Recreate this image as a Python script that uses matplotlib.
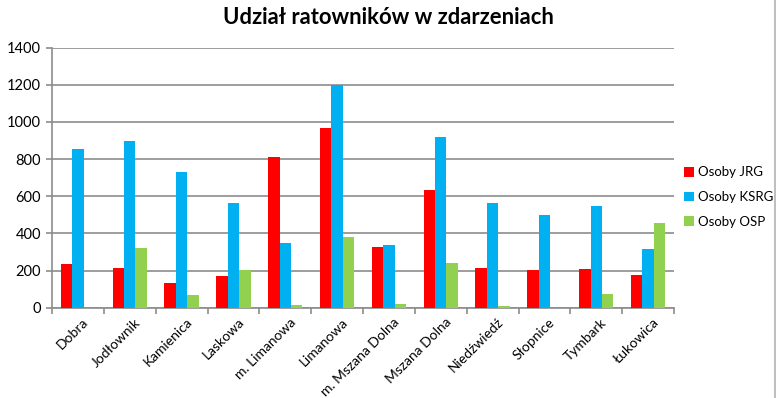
import matplotlib
matplotlib.use("Agg")
import matplotlib.pyplot as plt
import numpy as np
from matplotlib.patches import Patch

categories = ["Dobra", "Jodłownik", "Kamienica", "Laskowa", "m. Limanowa", "Limanowa",
              "m. Mszana Dolna", "Mszana Dolna", "Niedźwiedź", "Słopnice", "Tymbark", "Łukowica"]
jrg = [235, 212, 131, 171, 813, 969, 325, 634, 212, 205, 208, 178]
ksrg = [853, 898, 731, 562, 350, 1200, 339, 921, 562, 499, 548, 316]
osp = [0, 321, 67, 201, 15, 381, 20, 239, 9, 0, 74, 454]
series_names = ["Osoby JRG", "Osoby KSRG", "Osoby OSP"]
colors = ["#FF0000", "#00B0F0", "#92D050"]
yticks = [0, 200, 400, 600, 800, 1000, 1200, 1400]

plt.rcParams['font.family'] = ['Lato', 'DejaVu Sans']

fig = plt.figure(figsize=(7.76, 3.98), dpi=100)
ax = fig.add_axes([0.067, 0.2269, 0.8016, 0.6533])

x = np.arange(len(categories))
w = 0.22
for i, (vals, c) in enumerate(zip([jrg, ksrg, osp], colors)):
    ax.bar(x + (i - 1) * w, vals, width=w, color=c, zorder=3, linewidth=0)

ax.set_xlim(-0.5, len(categories) - 0.5)
ax.set_ylim(0, 1400)
ax.set_yticks(yticks)
ax.set_yticklabels([str(v) for v in yticks], fontsize=10.5)
ax.yaxis.grid(True, color="#8C8C8C", linewidth=1.2, zorder=0)
ax.set_xticks(np.arange(-0.5, len(categories)), minor=False)
ax.set_xticklabels([])
ax.set_xticks(x + 0.08, minor=True)
ax.set_xticklabels(categories, minor=True, rotation=45, ha="right", rotation_mode="anchor", fontsize=10)
ax.tick_params(axis="x", which="minor", length=0, pad=6)
ax.tick_params(axis="x", which="major", length=4, color="#8C8C8C", width=1.2)
ax.tick_params(axis="y", length=4, color="#8C8C8C", width=1.2, pad=4)
for s in ["top", "right"]:
    ax.spines[s].set_visible(False)
for s in ["left", "bottom"]:
    ax.spines[s].set_color("#8C8C8C")
    ax.spines[s].set_linewidth(1.2)

handles = [Patch(facecolor=c, label=n) for c, n in zip(colors, series_names)]
fig.legend(handles=handles, loc="center left", bbox_to_anchor=(0.881, 0.505), frameon=False,
           fontsize=9.5, handlelength=0.75, handleheight=0.75, handletextpad=0.35, labelspacing=0.95,
           borderaxespad=0, borderpad=0)

fig.text(0.5, 0.955, "Udział ratowników w zdarzeniach", ha="center", va="center",
         fontsize=15.8, fontweight="bold")

fig.add_artist(plt.Line2D([0.9985, 0.9985], [0, 1], color="#BFBFBF", linewidth=1.5, transform=fig.transFigure))

fig.savefig("out.png", dpi=100)
